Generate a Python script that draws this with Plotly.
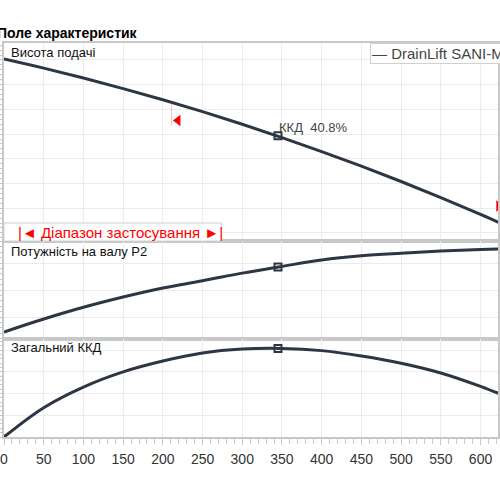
import plotly.graph_objects as go
from plotly.subplots import make_subplots

# ---- data ----
flow = [0, 50, 100, 150, 200, 250, 300, 350, 400, 450, 500, 550, 600, 650]
head = [8.04, 7.67, 7.27, 6.84, 6.39, 5.91, 5.40, 4.86, 4.29, 3.70, 3.08, 2.43, 1.75, 1.04]
power = [0.289, 0.385, 0.472, 0.548, 0.615, 0.668, 0.725, 0.775, 0.822, 0.853, 0.872, 0.888, 0.900, 0.910]
efficiency = [0, 13.5, 23.0, 30.0, 35.0, 38.7, 40.5, 40.8, 39.8, 37.3, 34.0, 29.5, 23.3, 16.0]

bep_flow = 345
bep_head = 4.93
bep_power = 0.770
bep_eff = 40.8

range_min_flow = 211
range_min_line = [6.30, 5.33]
range_min_tri = (219, 5.55)
range_max_tri = (623, 2.09)

tick_vals = [0, 50, 100, 150, 200, 250, 300, 350, 400, 450, 500, 550, 600]

pump_name = "DrainLift SANI-M.1"
title_text = "Поле характеристик"
panel_titles = ["Висота подачі", "Потужність на валу P2", "Загальний ККД"]
range_text = "|◄ Діапазон застосування ►|"
bep_label = "ККД\u00a0 40.8%"

FONT = "Liberation Sans, Arial, sans-serif"
CURVE = "#2c3644"
GRID = "#ececec"
FRAME = "#c8c8c8"

fig = make_subplots(rows=3, cols=1, shared_xaxes=True, vertical_spacing=0,
                    row_heights=[198, 98, 98])

def curve(y, row):
    fig.add_trace(go.Scatter(x=flow, y=y, mode="lines", line=dict(color=CURVE, width=3, shape="spline"),
                             showlegend=False, hoverinfo="skip"), row=row, col=1)

def bep(y, row):
    fig.add_trace(go.Scatter(x=[bep_flow], y=[y], mode="markers",
                             marker=dict(symbol="square-open", size=7, color=CURVE, line=dict(width=2)),
                             showlegend=False, hoverinfo="skip"), row=row, col=1)

curve(head, 1)
curve(power, 2)
curve(efficiency, 3)

# range limits on head curve
fig.add_trace(go.Scatter(x=[range_min_flow, range_min_flow], y=range_min_line, mode="lines",
                         line=dict(color="rgba(255,0,0,0.25)", width=1), showlegend=False, hoverinfo="skip"), row=1, col=1)
fig.add_trace(go.Scatter(x=[range_min_tri[0]], y=[range_min_tri[1]], mode="markers",
                         marker=dict(symbol="triangle-left", size=10, color="#ff0000", line=dict(width=0)),
                         showlegend=False, hoverinfo="skip"), row=1, col=1)
fig.add_trace(go.Scatter(x=[range_max_tri[0]], y=[range_max_tri[1]], mode="markers",
                         marker=dict(symbol="triangle-right", size=10, color="#ff0000", line=dict(width=0)),
                         showlegend=False, hoverinfo="skip"), row=1, col=1)

bep(bep_head, 1)
bep(bep_power, 2)
bep(bep_eff, 3)

xcommon = dict(range=[0, 622], tick0=0, dtick=50, showgrid=True, gridcolor=GRID, gridwidth=1,
               showline=True, linecolor=FRAME, linewidth=2, mirror=True, zeroline=False)
for r in (1, 2):
    fig.update_xaxes(showticklabels=False, ticks="", row=r, col=1, **xcommon)
fig.update_xaxes(row=3, col=1, ticks="outside", ticklen=6, tickcolor=FRAME,
                 tickvals=tick_vals, ticklabelstandoff=2, ticklabeloverflow="allow",
                 minor=dict(ticks="outside", ticklen=5, dtick=10, tickcolor=FRAME, showgrid=False),
                 tickfont=dict(family=FONT, size=14, color="#333333"), **xcommon)

ycommon = dict(showgrid=True, gridcolor=GRID, gridwidth=1, showline=True, linecolor=FRAME,
               linewidth=2, mirror=True, zeroline=False, showticklabels=False,
               ticks="outside", ticklen=3, tickcolor=FRAME, tick0=0)
fig.update_yaxes(range=[0.672, 8.688], dtick=1, minor=dict(ticks="outside", ticklen=3, dtick=0.2, tickcolor=FRAME),
                 row=1, col=1, **ycommon)
fig.update_yaxes(range=[0.237, 0.963], dtick=0.2, minor=dict(ticks="outside", ticklen=3, dtick=0.04, tickcolor=FRAME),
                 row=2, col=1, **ycommon)
fig.update_yaxes(range=[0, 45.16], dtick=10, minor=dict(ticks="outside", ticklen=3, dtick=2, tickcolor=FRAME),
                 row=3, col=1, **ycommon)

def px(x):
    return (x - 3) / 497

def py(y):
    return (437 - y) / 394

ann = []
ann.append(dict(text="<b>" + title_text + "</b>", xref="paper", yref="paper", x=px(-6), y=py(33),
                xanchor="left", yanchor="middle", showarrow=False,
                font=dict(family=FONT, size=14, color="#000000")))
for t, yy in zip(panel_titles, [52, 251, 347.5]):
    ann.append(dict(text=t, xref="paper", yref="paper", x=px(8), y=py(yy), xanchor="left", yanchor="middle",
                    showarrow=False, font=dict(family=FONT, size=13, color="#111111")))
ann.append(dict(text="— " + pump_name, xref="paper", yref="paper", x=px(371), y=py(53.5),
                xanchor="left", yanchor="middle", showarrow=False, bgcolor="#ffffff",
                bordercolor="#d0d0d0", borderwidth=1, borderpad=1,
                font=dict(family=FONT, size=15, color="#444444")))
ann.append(dict(text=bep_label, xref="x", yref="y", x=bep_flow, y=bep_head, xanchor="left", yanchor="bottom",
                showarrow=False, xshift=-1, yshift=-1, font=dict(family=FONT, size=13, color="#444444")))
ann.append(dict(text=range_text, xref="paper", yref="paper", x=px(15), y=py(232), xanchor="left",
                yanchor="middle", showarrow=False, font=dict(family=FONT, size=15, color="#ff0000")))

shapes = [dict(type="rect", xref="paper", yref="paper", x0=px(3), x1=px(222), y0=py(241), y1=py(223),
               fillcolor="#ffffff", line=dict(color="#d0d0d0", width=1), layer="above")]

fig.update_layout(width=500, height=500, margin=dict(l=3, r=0, t=43, b=63),
                  paper_bgcolor="#ffffff", plot_bgcolor="#ffffff",
                  annotations=ann, shapes=shapes, showlegend=False,
                  font=dict(family=FONT))

fig.write_html("out.html")
